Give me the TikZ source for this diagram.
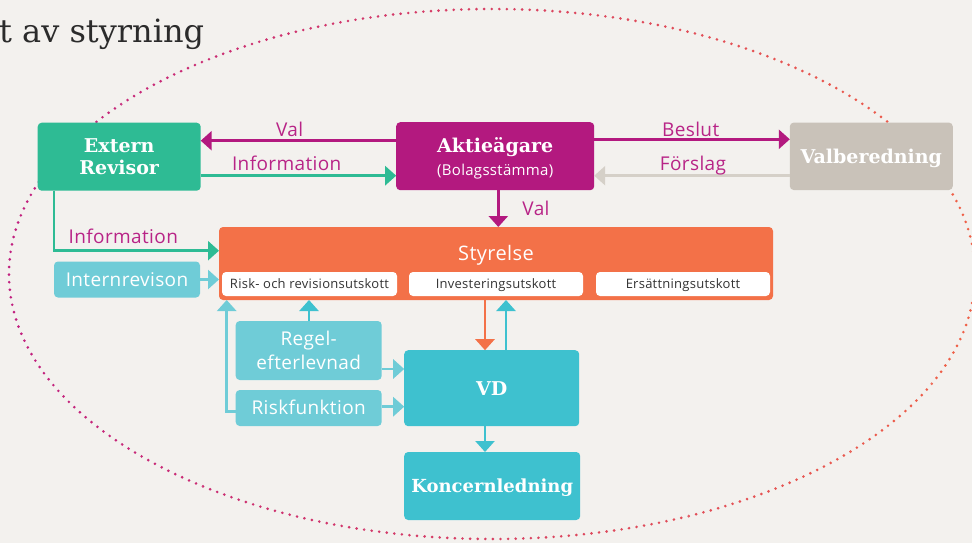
\documentclass[tikz,border=0pt]{standalone}
\usepackage{fontspec}
\setmainfont{DejaVu Serif}
\setsansfont{Open Sans}
\newfontfamily\osans[LetterSpace=2]{Open Sans}
\usetikzlibrary{arrows.meta}
\definecolor{bg}{HTML}{F3F1EE}
\definecolor{gr}{HTML}{2EBB94}
\definecolor{mg}{HTML}{B3197F}
\definecolor{vb}{HTML}{C9C2B9}
\definecolor{fg}{HTML}{D5D0C8}
\definecolor{orc}{HTML}{F37148}
\definecolor{tl}{HTML}{3EC1CF}
\definecolor{lt}{HTML}{6FCCD7}
\definecolor{lblc}{HTML}{B82487}
\definecolor{dotM}{HTML}{C1207F}
\definecolor{dotR}{HTML}{EF6047}
\definecolor{ttl}{HTML}{2B2B2B}
\definecolor{subt}{HTML}{333333}
\tikzset{
  box/.style={rounded corners=4pt, inner sep=0pt, outer sep=0pt, text=white, align=center},
  serifb/.style={font=\fontsize{19}{22.5}\selectfont\bfseries},
  sansw/.style={font=\osans\fontsize{19}{23.3}\selectfont},
  capS/.style={text height=13.8pt, text depth=0pt},
  capO/.style={text height=13.6pt, text depth=0pt},
  lbl/.style={text=lblc, font=\osans\fontsize{19}{22}\selectfont, inner sep=0pt, anchor=base},
  subbox/.style={fill=white, rounded corners=4pt, inner sep=0pt, outer sep=0pt, text=subt,
    font=\osans\fontsize{13}{15}\selectfont, text height=9.3pt, text depth=0pt},
  arr/.style={line width=2.6pt, line join=miter, -{Triangle[length=11pt,width=19pt]}},
}
\begin{document}
\begin{tikzpicture}[x=1pt,y=-1pt]
\fill[bg] (0,0) rectangle (972,543);
\useasboundingbox (0,0) rectangle (972,543);
% dotted ellipse with left-to-right colour gradient
\foreach \k in {0,...,47}{
  \pgfmathtruncatemacro\pc{round(\k/47*100)}
  \begin{scope}
    \clip (\k*20.25-0.02,-5) rectangle (\k*20.25+20.27,548);
    \draw[dotR!\pc!dotM, line width=2.9pt, line cap=round, dash pattern=on 0pt off 7.6pt]
      (492,274) ellipse [x radius=483pt, y radius=265pt];
  \end{scope}
}
% title
\node[anchor=base west, inner sep=0pt, text=ttl, font=\fontsize{32}{36}\selectfont] (title) at (-1,42.7) {t av styrning};

% boxes
\node[box, fill=gr, minimum width=163pt, minimum height=68pt, serifb] (ext) at (119.2,156.7) {Extern\\Revisor};
\node[box, fill=mg, minimum width=198pt, minimum height=68pt] (akt) at (495.2,156.2) {};
\node[anchor=base, inner sep=0pt, text=white, serifb] (aktt) at (495.2,152.7) {Aktieägare};
\node[anchor=base, inner sep=0pt, text=white, font=\osans\fontsize{15}{18}\selectfont] (bolt) at (495.2,175) {(Bolagsstämma)};
\node[box, fill=vb, minimum width=163pt, minimum height=67.5pt, serifb, capS] (val) at (871.3,156.3) {Valberedning};

\node[box, fill=orc, minimum width=554pt, minimum height=73pt] (sty) at (496,263.5) {};
\node[anchor=base, inner sep=0pt, text=white, font=\osans\fontsize{20}{24}\selectfont] (styt) at (496,260.7) {Styrelse};
\node[subbox, minimum width=175pt, minimum height=24pt] (rr) at (309.5,284) {Risk- och revisionsutskott};
\node[subbox, minimum width=174pt, minimum height=24pt] (inv) at (496,284) {Investeringsutskott};
\node[subbox, minimum width=174pt, minimum height=24pt] (ers) at (683,284) {Ersättningsutskott};

\node[box, fill=lt, minimum width=146pt, minimum height=36pt, sansw, capO] (ir) at (127,279.5) {Internrevison};
\node[box, fill=lt, minimum width=146pt, minimum height=59pt, sansw] (rg) at (308.7,350.5) {Regel-\\efterlevnad};
\node[box, fill=lt, minimum width=146pt, minimum height=36pt, sansw, capO] (rk) at (308.7,408) {Riskfunktion};
\node[box, fill=tl, minimum width=175pt, minimum height=76pt, serifb, capS] (vd) at (491.7,388.2) {VD};
\node[box, fill=tl, minimum width=176pt, minimum height=68pt, font=\fontsize{18}{22}\selectfont\bfseries, text height=13.1pt, text depth=0pt] (kon) at (492.2,486) {Koncernledning};

% connectors
\draw[arr, mg] (akt.west |- 0,140.7) -- (ext.east |- 0,140.7);
\draw[arr, gr] (ext.east |- 0,175.7) -- (akt.west |- 0,175.7);
\draw[arr, mg] (akt.east |- 0,139.3) -- (val.west |- 0,139.3);
\draw[arr, fg] (val.west |- 0,175.7) -- (akt.east |- 0,175.7);
\draw[arr, mg] (akt.south -| 498.3,0) -- (sty.north -| 498.3,0);
\draw[arr, gr] (ext.south -| ir.west) |- (sty.west |- 0,250.7);
\draw[arr, lt] (ir.east) -- (sty.west |- ir.east);
\draw[arr, tl] (rg.north -| 309,0) -- (sty.south -| 309,0);
\draw[arr, lt] (rk.west |- 0,411.7) -| (sty.south -| 226.7,0);
\draw[arr, lt] (rg.east |- 0,369) -- (vd.west |- 0,369);
\draw[arr, lt] (rk.east |- 0,406.7) -- (vd.west |- 0,406.7);
\draw[arr, orc] (sty.south -| 485,0) -- (vd.north -| 485,0);
\draw[arr, tl] (vd.north -| 506,0) -- (sty.south -| 506,0);
\draw[arr, tl] (vd.south -| 485,0) -- (kon.north -| 485,0);

% connector labels
\node[lbl] (l1) at (289.7,136) {Val};
\node[lbl] (l2) at (286.7,170) {Information};
\node[lbl] (l3) at (690.7,136) {Beslut};
\node[lbl] (l4) at (693,170.5) {Förslag};
\node[lbl] (l5) at (536,215) {Val};
\node[lbl] (l6) at (123.3,243.3) {Information};
\end{tikzpicture}
\end{document}
